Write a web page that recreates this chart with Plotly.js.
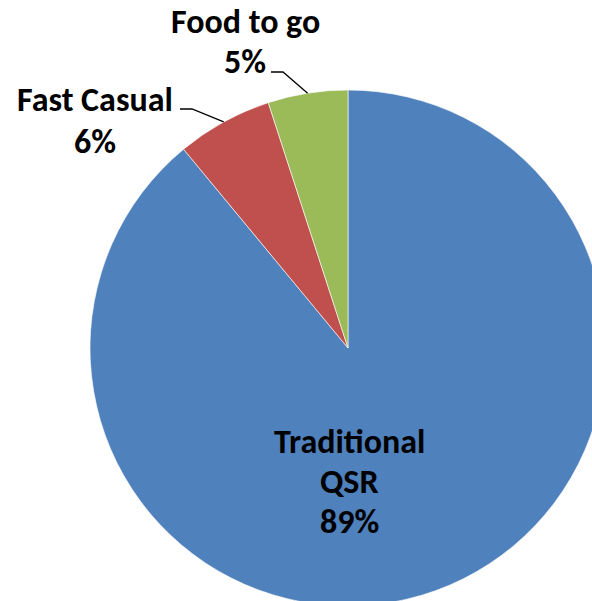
<!DOCTYPE html>
<html>
<head>
<meta charset="utf-8">
<script src="https://cdn.plot.ly/plotly-3.0.1.min.js"></script>
<style>
html,body{margin:0;padding:0;overflow:hidden;background:#fff;width:592px;height:601px;}
#chart{width:620px;height:620px;}
</style>
</head>
<body>
<div id="chart"></div>
<script>
const categories = ["Traditional QSR", "Fast Casual", "Food to go"];
const displayLabels = [["Traditional", "QSR"], ["Fast Casual"], ["Food to go"]];
const values = [89, 6, 5];
const colors = ["#4F81BD", "#C0504D", "#9BBB59"];

const W = 620, H = 620;
const cx = 348, cy = 348, R = 258;
const px = x => x / W;
const py = y => 1 - y / H;

// label placement: centre x and first-line y (pixels), line pitch; leader elbows
const labelPos = [[349, 441], [95, 100], [245, 21]];
const pitch = [40, 41, 41];
const elbows = [null, [[180, 109], [192, 109]], [[271, 72], [283, 72]]];

const total = values.reduce((a, b) => a + b, 0);
let acc = 0;
const annotations = [];
const shapes = [];
values.forEach((v, i) => {
  const mid = (acc + v / 2) / total * 2 * Math.PI;
  acc += v;
  const ax = cx + R * Math.sin(mid);
  const ay = cy - R * Math.cos(mid);
  const lines = displayLabels[i].concat([v + '%']);
  lines.forEach((t, k) => {
    annotations.push({
      x: px(labelPos[i][0]), y: py(labelPos[i][1] + k * pitch[i]), xref: 'paper', yref: 'paper',
      xanchor: 'center', yanchor: 'middle', showarrow: false, align: 'center',
      text: '<b>' + t + '</b>',
      font: {family: 'Carlito, Lato, "Open Sans", sans-serif', size: 34, color: '#000'}
    });
  });
  if (elbows[i]) {
    const e = elbows[i];
    shapes.push({
      type: 'path', xref: 'paper', yref: 'paper',
      path: `M ${px(e[0][0])} ${py(e[0][1])} L ${px(e[1][0])} ${py(e[1][1])} L ${px(ax)} ${py(ay)}`,
      line: {color: '#000', width: 1.3}
    });
  }
});

const data = [{
  type: 'pie',
  labels: categories,
  values: values,
  marker: {colors: colors, line: {color: 'rgba(255,255,255,0.6)', width: 1}},
  sort: false,
  direction: 'clockwise',
  rotation: 0,
  textinfo: 'none',
  hoverinfo: 'label+percent',
  showlegend: false,
  domain: {x: [(cx - R) / W, (cx + R) / W], y: [1 - (cy + R) / H, 1 - (cy - R) / H]}
}];

const layout = {
  width: W, height: H,
  margin: {l: 0, r: 0, t: 0, b: 0},
  paper_bgcolor: '#fff',
  showlegend: false,
  annotations: annotations,
  shapes: shapes
};

Plotly.newPlot('chart', data, layout, {displayModeBar: false, staticPlot: true});
</script>
</body>
</html>
